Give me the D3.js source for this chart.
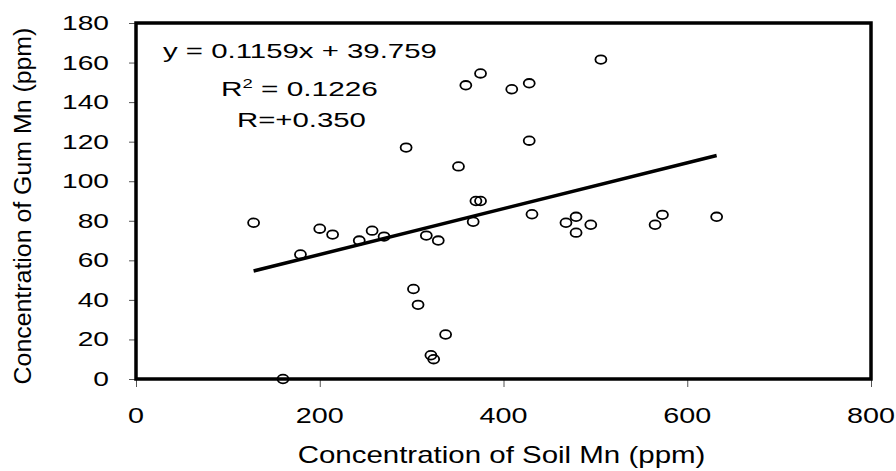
<!DOCTYPE html>
<html>
<head>
<meta charset="utf-8">
<script src="https://cdn.jsdelivr.net/npm/d3@7/dist/d3.min.js"></script>
<style>
  html, body { margin: 0; padding: 0; background: #fff; }
  svg { display: block; font-family: "Liberation Sans", Arial, sans-serif; }
</style>
</head>
<body>
<svg id="chart" width="896" height="471"></svg>
<script>
// ---- data ----
const soilMn = [128, 160, 179, 200, 214, 243, 257, 270, 294, 302, 307, 316, 321, 324, 329, 337,
                351, 359, 367, 370, 375, 375, 409, 428, 428, 431, 468, 479, 479, 495, 506, 565, 573, 632];
const gumMn  = [79, 0, 63, 76, 73, 70, 75, 72, 117, 45.5, 37.5, 72.5, 12, 10, 70, 22.5,
                107.5, 148.5, 79.5, 90, 90, 154.5, 146.5, 149.5, 120.5, 83.3, 79, 82, 74, 78, 161.5, 78, 83, 82];
const xTicks = [0, 200, 400, 600, 800];
const yTicks = [0, 20, 40, 60, 80, 100, 120, 140, 160, 180];
const slope = 0.1159, intercept = 39.759;
const eqLines = ["y = 0.1159x + 39.759", "R2 = 0.1226", "R=+0.350"];
const xTitle = "Concentration of Soil Mn (ppm)";
const yTitle = "Concentration of Gum Mn (ppm)";

// ---- layout ----
const svg = d3.select("#chart");
const x = d3.scaleLinear().domain([0, 800]).range([136, 871]);
const y = d3.scaleLinear().domain([0, 180]).range([379, 23]);

function fitText(sel, width) {
  const w = sel.node().getComputedTextLength();
  return width / w;
}

// ticks
const yAxis = d3.axisLeft(y).tickValues(yTicks).tickSize(6).tickPadding(0).tickFormat("");
const gy = svg.append("g").attr("transform", "translate(135,0)").call(yAxis);
gy.select(".domain").remove();
gy.selectAll(".tick line").attr("stroke", "#555").attr("stroke-width", 1);

const xAxis = d3.axisBottom(x).tickValues(xTicks).tickSize(7).tickFormat("");
const gx = svg.append("g").attr("transform", "translate(0,380)").call(xAxis);
gx.select(".domain").remove();
gx.selectAll(".tick line").attr("stroke", "#555").attr("stroke-width", 1);

// y tick labels
let ysx = null;
yTicks.forEach(v => {
  const t = svg.append("text").text(v).attr("font-size", 20).attr("text-anchor", "end").attr("fill", "#000");
  if (ysx === null) { const probe = svg.append("text").text("180").attr("font-size", 20); ysx = fitText(probe, 47); probe.remove(); }
  t.attr("transform", `translate(109,${y(v) + 7}) scale(${ysx},1)`);
});
// x tick labels
let xsx = null;
xTicks.forEach(v => {
  const t = svg.append("text").text(v).attr("font-size", 22).attr("text-anchor", "middle").attr("fill", "#000");
  if (xsx === null) { const probe = svg.append("text").text("200").attr("font-size", 22); xsx = fitText(probe, 48); probe.remove(); }
  t.attr("transform", `translate(${x(v)},423) scale(${xsx},1)`);
});

// frame
svg.append("rect")
  .attr("x", x(0)).attr("y", y(180))
  .attr("width", x(800) - x(0)).attr("height", y(0) - y(180))
  .attr("fill", "none").attr("stroke", "#000").attr("stroke-width", 3.5);

// trend line
const ext = d3.extent(soilMn);
svg.append("line")
  .attr("x1", x(ext[0])).attr("y1", y(slope * ext[0] + intercept))
  .attr("x2", x(ext[1])).attr("y2", y(slope * ext[1] + intercept))
  .attr("stroke", "#000").attr("stroke-width", 3.5);

// points
svg.append("g").selectAll("ellipse")
  .data(soilMn.map((d, i) => [d, gumMn[i]]))
  .join("ellipse")
  .attr("cx", d => x(d[0])).attr("cy", d => y(d[1]))
  .attr("rx", 5.5).attr("ry", 4.3)
  .attr("fill", "none").attr("stroke", "#000").attr("stroke-width", 1.8);

// equation text
const eqPos = [[163, 58, 274], [221, 96, 157], [237, 127, 129]];
eqLines.forEach((s, i) => {
  const t = svg.append("text").attr("font-size", 21).attr("fill", "#000");
  if (s.startsWith("R2")) {
    t.append("tspan").text("R");
    t.append("tspan").text("2").attr("font-size", 13).attr("dy", -8);
    t.append("tspan").text(" = 0.1226").attr("dy", 8);
  } else {
    t.text(s);
  }
  const sx = fitText(t, eqPos[i][2]);
  t.attr("transform", `translate(${eqPos[i][0]},${eqPos[i][1]}) scale(${sx},1)`);
});

// axis titles
const xt = svg.append("text").text(xTitle).attr("font-size", 23).attr("text-anchor", "middle").attr("fill", "#000");
const xtsx = fitText(xt, 408);
xt.attr("transform", `translate(501.5,463) scale(${xtsx},1)`);

const yt = svg.append("text").text(yTitle).attr("font-size", 24).attr("text-anchor", "middle").attr("fill", "#000");
const ytsx = fitText(yt, 357);
yt.attr("transform", `translate(31,206) rotate(-90) scale(${ytsx},1)`);
</script>
</body>
</html>
